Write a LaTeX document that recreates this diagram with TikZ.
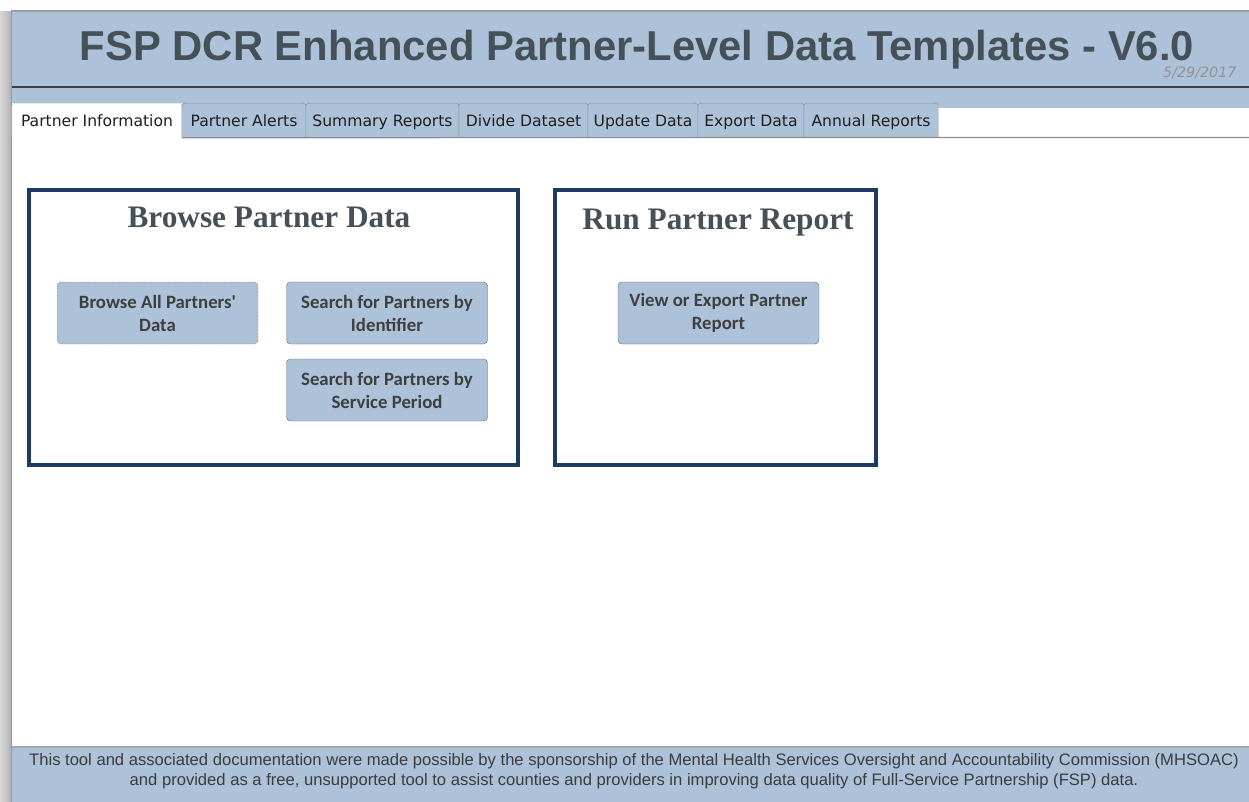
\documentclass[tikz,border=0pt]{standalone}
\usepackage{fontspec}
\setmainfont{Liberation Sans}
\newfontfamily\tabfont{DejaVu Sans}
\newfontfamily\btnfont{Carlito}
\newfontfamily\panelfont{Liberation Serif}

\definecolor{formblue}{HTML}{ADC1D9}
\definecolor{titlegrey}{HTML}{465058}
\definecolor{boxnavy}{HTML}{1F3A60}
\definecolor{btntext}{HTML}{3F3F3F}
\definecolor{btnedge}{HTML}{5F6872}
\definecolor{tabedge}{HTML}{8C8C8C}
\definecolor{tabtext}{HTML}{1E1E1E}
\definecolor{footgrey}{HTML}{3C3C3C}

\tikzset{
  tabcard/.style = {fill = formblue, minimum height = 34, inner sep = 0, text height = 14, text depth = 1.5, text = tabtext, font = \tabfont\fontsize{15.6}{18}\selectfont},
  panel/.style = {draw = boxnavy, line width = 3.5, minimum height = 275},
  paneltitle/.style = {anchor = base, text = titlegrey, font = \panelfont\bfseries\fontsize{31.3}{36}\selectfont},
  button/.style = {draw = btnedge, fill = formblue, rounded corners = 4, minimum width = 201, minimum height = 62, align = center, text = btntext, font = \btnfont\bfseries\fontsize{18.8}{23}\selectfont}
}

\begin{document}
\begin{tikzpicture}[x = 1pt, y = -1pt]
\useasboundingbox (0, 0) rectangle (1249, 802);

% window frame and header band
\path [fill = formblue] (12, 12) rectangle (1249, 108);
\path [draw = black!75, line width = 1.2] (12, 87) -- (1249, 87);
\path [draw = gray!75, line width = 2] (11, 11) -- (1249, 11);
\shade [left color = gray!30, right color = gray!60] (0, 12) rectangle (11, 802);
\path [draw = gray!80, line width = 1.5] (11.5, 11) -- (11.5, 802);

\node [anchor = base, text = titlegrey, font = \bfseries\fontsize{41.8}{48}\selectfont] (title) at (637, 61) {FSP DCR Enhanced Partner-Level Data Templates - V6.0};
\node [anchor = base east, text = gray!85, font = \tabfont\itshape\fontsize{14.3}{16}\selectfont] (date) at (1240, 78) {5/29/2017};

% tabs
\node [tabcard, fill = white, minimum width = 170] (tab0) at (97, 120.5) {Partner Information};
\path [draw = gray!45, rounded corners = 3] (tab0.south west) |- (tab0.north east) -- (tab0.south east);
\node [tabcard, minimum width = 124] (tab1) at (244, 120.5) {Partner Alerts};
\path [draw = tabedge, rounded corners = 3] (tab1.south west) |- (tab1.north east) -- (tab1.south east);
\node [tabcard, minimum width = 153] (tab2) at (382.5, 120.5) {Summary Reports};
\path [draw = tabedge, rounded corners = 3] (tab2.south west) |- (tab2.north east) -- (tab2.south east);
\node [tabcard, minimum width = 129] (tab3) at (523.5, 120.5) {Divide Dataset};
\path [draw = tabedge, rounded corners = 3] (tab3.south west) |- (tab3.north east) -- (tab3.south east);
\node [tabcard, minimum width = 110] (tab4) at (643, 120.5) {Update Data};
\path [draw = tabedge, rounded corners = 3] (tab4.south west) |- (tab4.north east) -- (tab4.south east);
\node [tabcard, minimum width = 106] (tab5) at (751, 120.5) {Export Data};
\path [draw = tabedge, rounded corners = 3] (tab5.south west) |- (tab5.north east) -- (tab5.south east);
\node [tabcard, minimum width = 134] (tab6) at (871, 120.5) {Annual Reports};
\path [draw = tabedge, rounded corners = 3] (tab6.south west) |- (tab6.north east) -- (tab6.south east);

\coordinate (tabend) at (1249, 137.5);
\path [draw = tabedge, line width = 1.2] (tab0.south east) -- (tabend);

% browse panel
\node [panel, minimum width = 489] (browse) at (273.5, 327.5) {};
\node [paneltitle] (browsetitle) at (269, 228) {Browse Partner Data};
\node [button, draw = black!75, densely dotted] (browseall) at (157.5, 313) {Browse All Partners'\\Data};
\node [button] (byident) at (387, 313) {Search for Partners by\\Identifier};
\node [button] (byperiod) at (387, 390) {Search for Partners by\\Service Period};

% report panel
\node [panel, minimum width = 321] (report) at (715.5, 327.5) {};
\node [paneltitle] (reporttitle) at (718, 230) {Run Partner Report};
\node [button] (viewexport) at (718.5, 313) {View or Export Partner\\Report};

% footer
\path [fill = formblue] (12, 747) rectangle (1249, 802);
\path [draw = gray!70, line width = 1.5] (12, 747) -- (1249, 747);
\node [align = center, inner sep = 0, text = footgrey, font = \fontsize{16.6}{19.5}\selectfont] (credits) at (634, 771) {This tool and associated documentation were made possible by the sponsorship of the Mental Health Services Oversight and Accountability Commission (MHSOAC)\\and provided as a free, unsupported tool to assist counties and providers in improving data quality of Full-Service Partnership (FSP) data.};
\end{tikzpicture}
\end{document}
